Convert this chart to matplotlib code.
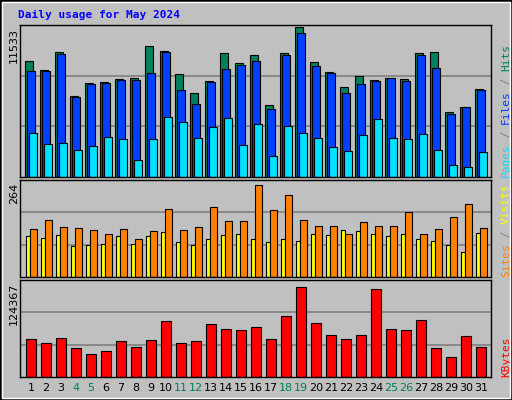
from matplotlib import pyplot as plt
from matplotlib.patches import Rectangle
import numpy as np

# ---- data ----
days = list(range(1, 32))
weekend = [4, 5, 11, 12, 18, 19, 25, 26]
hits = [8938, 8230, 9646, 6264, 7208, 7287, 7522, 7601, 10117, 9724, 7916, 6500, 7365, 9567, 8781, 9410,
        5557, 9567, 11533, 8859, 8073, 6893, 7758, 7444, 7601, 7522, 9567, 9646, 5006, 5399, 6815]
files = [8151, 8151, 9488, 6186, 7129, 7208, 7444, 7444, 7994, 9646, 6736, 5635, 7287, 8309, 8623, 8938,
         5242, 9410, 11061, 8545, 7994, 6500, 7129, 7365, 7601, 7365, 9410, 8387, 4849, 5399, 6736]
pages = [3355, 2569, 2647, 2097, 2411, 3119, 2962, 1311, 2962, 4613, 4220, 3040, 3827, 4534, 2490, 4063,
         1625, 3905, 3355, 3040, 2333, 2018, 3198, 4456, 3040, 2962, 3276, 2097, 917, 760, 1940]
visits = [138, 164, 143, 141, 135, 123, 138, 109, 132, 195, 135, 143, 201, 161, 161, 264,
          192, 235, 164, 146, 146, 123, 158, 146, 146, 187, 123, 138, 172, 209, 141]
sites = [118, 112, 121, 89, 92, 95, 118, 95, 118, 129, 100, 92, 109, 121, 123, 109,
         100, 109, 103, 123, 121, 135, 132, 123, 118, 123, 109, 103, 92, 72, 126]
kbytes = [53300, 46470, 54670, 39640, 31440, 35540, 49200, 41000, 50570, 77900, 46470, 49200, 73800, 66970,
          65600, 69700, 53300, 84740, 124367, 75170, 58770, 53300, 58770, 121640, 66970, 65600, 79270,
          39640, 27340, 57400, 41000]

BG = '#C0C0C0'
C_HITS, C_FILES, C_PAGES = '#00805C', '#0040FF', '#00E0FF'
C_VISITS, C_SITES, C_KB = '#FF8000', '#FFFF00', '#FF0000'
MONO = 'DejaVu Sans Mono'

W, H = 512, 400
fig = plt.figure(figsize=(W / 100, H / 100), dpi=100, facecolor=BG)

# outer bevel
fig.patches.append(Rectangle((0, 0), 1, 1, transform=fig.transFigure, fill=False,
                             edgecolor='black', linewidth=2))
fig.patches.append(Rectangle((2 / W, 2 / H), 1 - 4 / W, 1 - 4 / H, transform=fig.transFigure,
                             fill=False, edgecolor='white', linewidth=1))


def make_ax(top, bottom, ymax):
    ax = fig.add_axes([20 / W, 1 - bottom / H, 471 / W, (bottom - top) / H], facecolor=BG)
    ax.set_xlim(0.27, 31.67)
    ax.set_ylim(0, ymax)
    for y in (ymax / 3, 2 * ymax / 3):
        ax.axhline(y, color='#808080', linewidth=1.2, zorder=0)
    ax.set_xticks([])
    ax.set_yticks([])
    for s in ax.spines.values():
        s.set_color('black')
        s.set_linewidth(1)
    return ax


x = np.array(days)
ek = dict(edgecolor='black', linewidth=0.8)

# Hits / Files / Pages
ax1 = make_ax(25, 177, max(hits) * 1.015)
ax1.bar(x - 0.13, hits, width=0.49, color=C_HITS, **ek)
ax1.bar(x, files, width=0.49, color=C_FILES, **ek)
ax1.bar(x + 0.13, pages, width=0.49, color=C_PAGES, **ek)

# Sites / Visits
ax2 = make_ax(180, 277, max(visits) * 1.05)
ax2.bar(x - 0.35, sites, width=0.27, color=C_SITES, align='edge', **ek)
ax2.bar(x - 0.08, visits, width=0.49, color=C_VISITS, align='edge', **ek)

# KBytes
ax3 = make_ax(280, 377, max(kbytes) * 1.08)
ax3.bar(x, kbytes, width=0.67, color=C_KB, **ek)

# left max labels
for top, txt in ((28, str(max(hits))), (183, str(max(visits))), (283, str(max(kbytes)))):
    fig.text(14 / W, 1 - top / H, txt, rotation=90, ha='center', va='top',
             fontsize=8, family='DejaVu Sans')


def right_label(ax, parts):
    # parts listed bottom to top
    y = 0.0
    ax_h = ax.get_position().height * H
    for txt, col in parts:
        ax.text(1 + 15 / 471, y, txt, transform=ax.transAxes, rotation=90, ha='center', va='bottom',
                fontsize=8, family=MONO, color=col)
        y += len(txt) * 6.6 / ax_h


right_label(ax1, [('Pages', C_PAGES), (' / ', '#808080'), ('Files', C_FILES), (' / ', '#808080'), ('Hits', C_HITS)])
right_label(ax2, [('Sites', C_VISITS), (' / ', '#808080'), ('Visits', C_SITES)])
right_label(ax3, [('KBytes', C_KB)])

# day labels
for d in days:
    ax3.text(d, -11 / 97, str(d), transform=ax3.get_xaxis_transform(), ha='center', va='center',
             fontsize=8, color=C_HITS if d in weekend else 'black')

fig.text(18 / W, 1 - 15 / H, 'Daily usage for May 2024', fontsize=8, family=MONO,
         fontweight='bold', color='#0000FF', va='center')

fig.savefig('out.png', dpi=100, facecolor=BG)
